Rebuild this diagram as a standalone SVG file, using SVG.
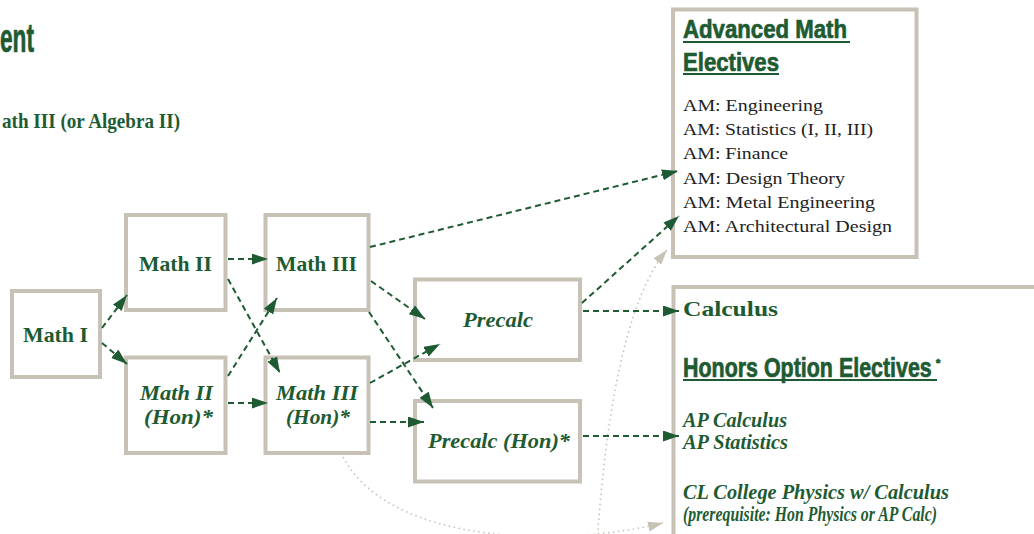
<svg xmlns="http://www.w3.org/2000/svg" width="1034" height="534" viewBox="0 0 1034 534">
<style>
.box{fill:#fff;stroke:#c8c1b6;stroke-width:4}
.lbl{font-family:"Liberation Serif","DejaVu Serif",serif;font-weight:bold;fill:#1e5b33;font-size:21px}
.it{font-style:italic}
.head{font-family:"Liberation Sans Narrow","Liberation Sans","DejaVu Sans",sans-serif;font-weight:bold;fill:#1e5b33;stroke:#1e5b33;stroke-width:0.7}
.item{font-family:"Liberation Serif","DejaVu Serif",serif;fill:#222;font-size:17.5px}
.edge{fill:none;stroke:#1e5b33;stroke-width:2;stroke-dasharray:6 4}
.dot{fill:none;stroke:#c8c1b6;stroke-width:1.6;stroke-dasharray:1.5 3.5}
.ul{stroke:#1e5b33;stroke-width:2}
</style>
<defs>
<marker id="ah" markerUnits="userSpaceOnUse" markerWidth="17" markerHeight="12" refX="16" refY="5.5" orient="auto"><path d="M0,0 L16,5.5 L0,11 z" fill="#1e5b33"/></marker>
<marker id="ag" markerUnits="userSpaceOnUse" markerWidth="17" markerHeight="12" refX="15" refY="5" orient="auto"><path d="M0,0 L15,5 L0,10 z" fill="#c8c1b6"/></marker>
</defs>

<g id="title">
<text x="0" y="52" class="head" font-size="40" textLength="34" lengthAdjust="spacingAndGlyphs">ent</text>
<text x="2" y="128" class="lbl" font-size="16" textLength="178" lengthAdjust="spacingAndGlyphs">ath III (or Algebra II)</text>
</g>

<g id="math1">
<rect class="box" x="12" y="291" width="88" height="86"/>
<text class="lbl" x="23" y="342" textLength="65" lengthAdjust="spacingAndGlyphs">Math I</text>
</g>
<g id="math2">
<rect class="box" x="126" y="215" width="99.5" height="95"/>
<text class="lbl" x="139" y="271" textLength="73" lengthAdjust="spacingAndGlyphs">Math II</text>
</g>
<g id="math3">
<rect class="box" x="265.5" y="215" width="103" height="95"/>
<text class="lbl" x="276" y="271" textLength="81" lengthAdjust="spacingAndGlyphs">Math III</text>
</g>
<g id="math2hon">
<rect class="box" x="126" y="357.5" width="99.5" height="95.5"/>
<text class="lbl it" x="140" y="400" textLength="73" lengthAdjust="spacingAndGlyphs">Math II</text>
<text class="lbl it" x="144" y="424" textLength="69" lengthAdjust="spacingAndGlyphs">(Hon)*</text>
</g>
<g id="math3hon">
<rect class="box" x="265.5" y="357.5" width="103" height="95.5"/>
<text class="lbl it" x="276" y="400" textLength="82" lengthAdjust="spacingAndGlyphs">Math III</text>
<text class="lbl it" x="286" y="424" textLength="64" lengthAdjust="spacingAndGlyphs">(Hon)*</text>
</g>
<g id="precalc">
<rect class="box" x="415" y="279.5" width="165" height="80.5"/>
<text class="lbl it" x="463" y="327" textLength="70" lengthAdjust="spacingAndGlyphs">Precalc</text>
</g>
<g id="precalchon">
<rect class="box" x="415" y="401" width="165" height="80.5"/>
<text class="lbl it" x="428" y="448" textLength="142" lengthAdjust="spacingAndGlyphs">Precalc (Hon)*</text>
</g>

<g id="advanced">
<rect class="box" x="673" y="9.5" width="243.5" height="247.5"/>
<text class="head" x="683" y="38" font-size="26" textLength="164" lengthAdjust="spacingAndGlyphs">Advanced Math</text>
<line class="ul" x1="683" y1="42" x2="850" y2="42"/>
<text class="head" x="683" y="70.5" font-size="26" textLength="96" lengthAdjust="spacingAndGlyphs">Electives</text>
<line class="ul" x1="683" y1="74" x2="779" y2="74"/>
<text class="item" x="683" y="110.5" textLength="140" lengthAdjust="spacingAndGlyphs">AM: Engineering</text>
<text class="item" x="683" y="135" textLength="190" lengthAdjust="spacingAndGlyphs">AM: Statistics (I, II, III)</text>
<text class="item" x="683" y="159.3" textLength="105" lengthAdjust="spacingAndGlyphs">AM: Finance</text>
<text class="item" x="683" y="184" textLength="162" lengthAdjust="spacingAndGlyphs">AM: Design Theory</text>
<text class="item" x="683" y="208.3" textLength="192" lengthAdjust="spacingAndGlyphs">AM: Metal Engineering</text>
<text class="item" x="683" y="232.3" textLength="209" lengthAdjust="spacingAndGlyphs">AM: Architectural Design</text>
</g>

<g id="calculus">
<rect class="box" x="673.5" y="287" width="420" height="300"/>
<text class="lbl" x="683" y="315.5" font-size="22" textLength="95" lengthAdjust="spacingAndGlyphs">Calculus</text>
<text class="head" transform="translate(683,376.5) scale(0.8,1)" x="0" y="0" font-size="27" textLength="311" lengthAdjust="spacingAndGlyphs">Honors Option Electives</text>
<text class="head" x="936" y="366.5" font-size="11" stroke-width="0.3">*</text>
<line class="ul" x1="683" y1="380" x2="937" y2="380"/>
<text class="lbl it" x="683" y="426.5" font-size="17.5" textLength="104" lengthAdjust="spacingAndGlyphs">AP Calculus</text>
<text class="lbl it" x="683" y="449.3" font-size="17.5" textLength="105" lengthAdjust="spacingAndGlyphs">AP Statistics</text>
<text class="lbl it" x="683" y="499" font-size="17" textLength="266" lengthAdjust="spacingAndGlyphs">CL College Physics  w/ Calculus</text>
<text class="lbl it" x="683" y="521" font-size="13" font-weight="normal" textLength="254" lengthAdjust="spacingAndGlyphs">(prerequisite: Hon Physics or AP Calc)</text>
</g>

<g id="connectors">
<path class="dot" d="M343,457 C390,545 560,548 663,523" marker-end="url(#ag)"/>
<path class="dot" d="M597,545 C605,420 625,300 667,250" marker-end="url(#ag)"/>
<path class="edge" d="M102,328 L127,295" marker-end="url(#ah)"/>
<path class="edge" d="M102,343 L127,364" marker-end="url(#ah)"/>
<path class="edge" d="M228,259 L268,259" marker-end="url(#ah)"/>
<path class="edge" d="M228,403 L268,403" marker-end="url(#ah)"/>
<path class="edge" d="M228,279 L280,373" marker-end="url(#ah)"/>
<path class="edge" d="M228,376 L277,298" marker-end="url(#ah)"/>
<path class="edge" d="M370,247 L678,171" marker-end="url(#ah)"/>
<path class="edge" d="M371,281 L425,319" marker-end="url(#ah)"/>
<path class="edge" d="M369,312 L433,408" marker-end="url(#ah)"/>
<path class="edge" d="M370,383 L440,344" marker-end="url(#ah)"/>
<path class="edge" d="M370,422 L424,422" marker-end="url(#ah)"/>
<path class="edge" d="M582,303 L679,216" marker-end="url(#ah)"/>
<path class="edge" d="M583,311 L679,311" marker-end="url(#ah)"/>
<path class="edge" d="M583,436 L679,436" marker-end="url(#ah)"/>
</g>
</svg>
